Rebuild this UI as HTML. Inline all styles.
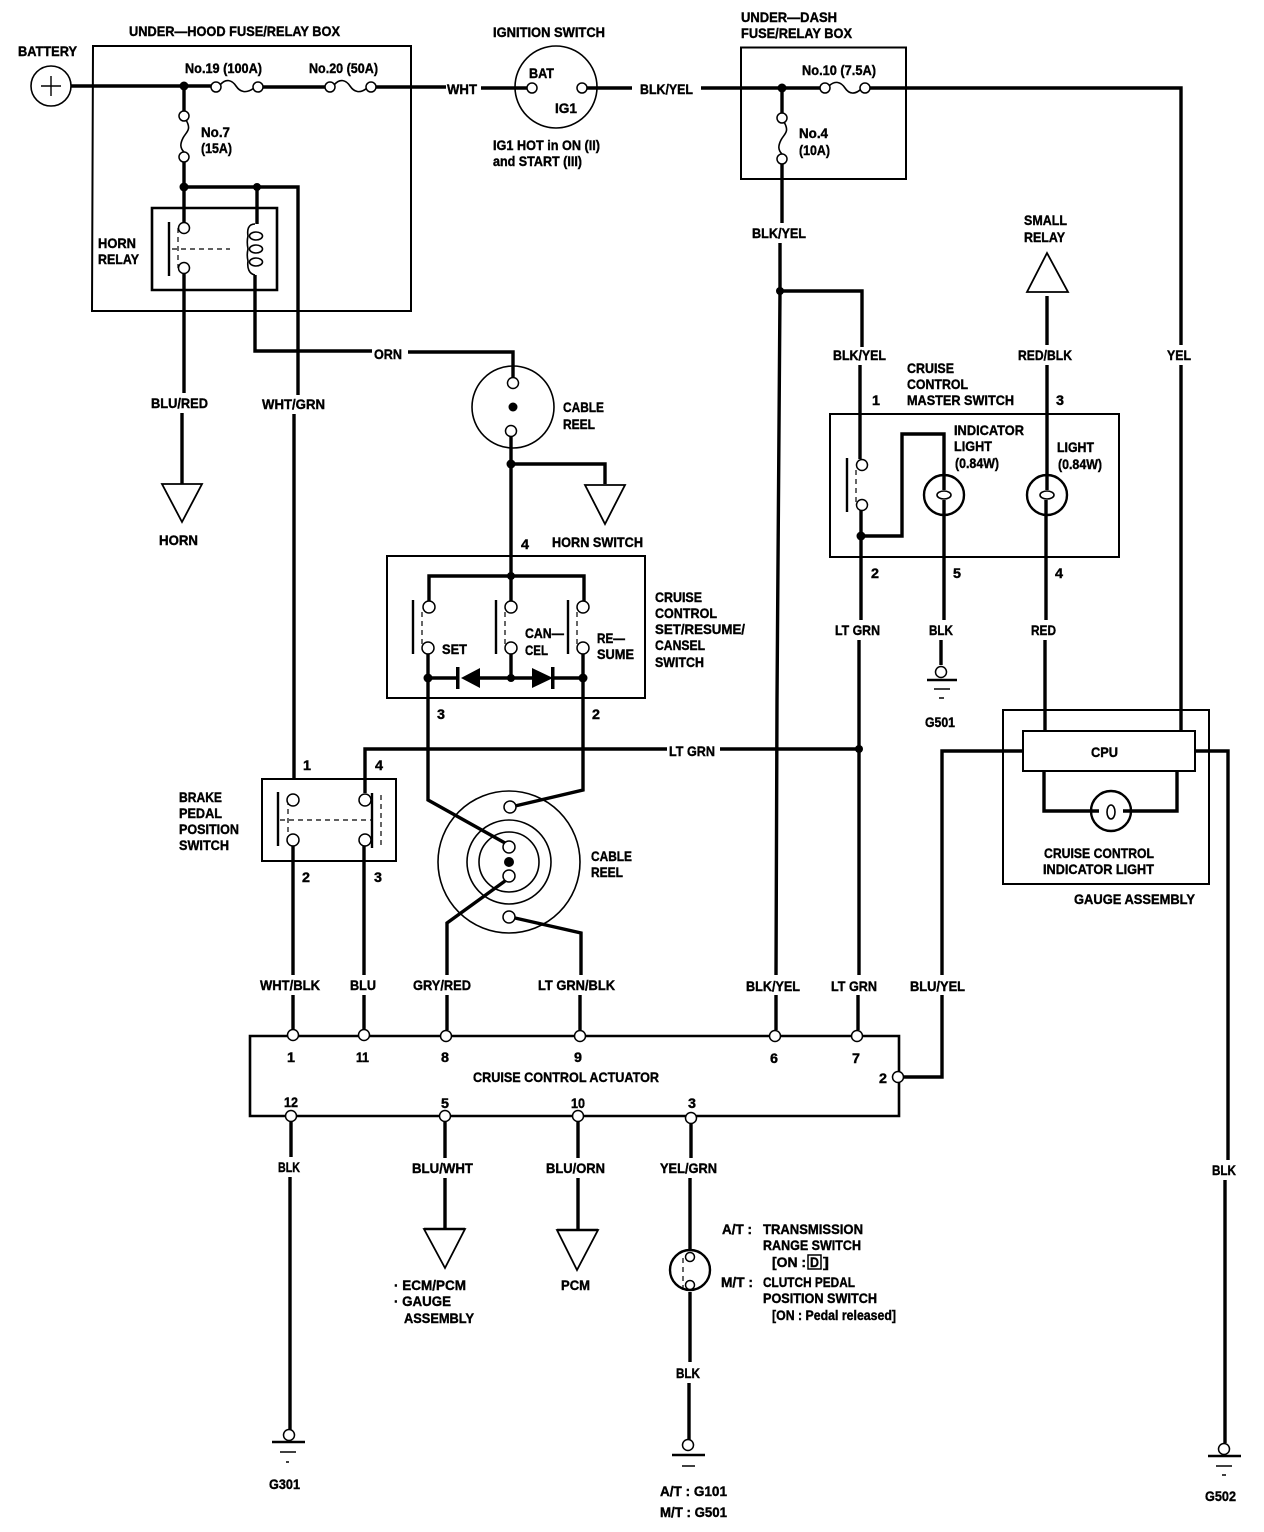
<!DOCTYPE html>
<html><head><meta charset="utf-8"><style>
html,body{margin:0;padding:0;background:#fff;width:1264px;height:1532px;overflow:hidden}
svg{display:block}
text{font-family:"Liberation Sans",sans-serif;font-weight:bold;font-size:14px;fill:#000;stroke:#000;stroke-width:.4}
.w{fill:none;stroke:#000;stroke-width:3.4;stroke-linejoin:miter}
.b{fill:none;stroke:#000;stroke-width:2}
.t{fill:none;stroke:#000;stroke-width:1.6}
.h{fill:#fff;stroke:#000;stroke-width:1.5}
.d{fill:none;stroke:#000;stroke-width:1.2;stroke-dasharray:5 4}
.k{fill:#000;stroke:none}
</style></head><body>
<svg width="1264" height="1532" viewBox="0 0 1264 1532" xmlns="http://www.w3.org/2000/svg">
<!-- boxes -->
<g class="b">
<path d="M93 46H411V311H92Z"/><path d="M741 47.5H906V179H741Z"/><path d="M152 208H277V290H152Z" style="stroke-width:2.6"/>
<path d="M387 556H645V698H387Z"/><path d="M262 779H396V861H262Z"/><path d="M830 414H1119V557H830Z"/>
<path d="M1003 710H1209V884H1003Z"/><path d="M1023 731H1195V771H1023Z"/>
</g>
<path class="w" d="M250 1036H899V1116H250Z" style="stroke-width:2.6"/>
<!-- wires -->
<g class="w">
<path d="M71 86H212M263 87H326M375 87H446M481 88H527M587 88H632M701 88H820M869 88H1181V345"/>
<path d="M184 86V111M184 162V187H298V395M257 187V224M184 187V223M184 273V393M182 413V484M255 275V351H372M408 352H513V378"/>
<path d="M294 414V780M293 845V975M293 995V1030M364 845V975M364 995V1030"/>
<path d="M511 436V575M511 464H605V484M429 602V576H584V602M511 576V602"/>
<path d="M428 653V800L505 843M511 653V678M583 653V790L515 806M428 678H458M480 678H532M553 678H583"/>
<path d="M505 881L447 923V975M447 995V1030M515 918L581 933V975M580 995V1030"/>
<path d="M365 793V749H667M720 749H859"/>
<path d="M782 88V113M782 164V223M780 243V291L777 700L776 975M776 995V1030M780 291H862V347M860 365V459M861 510V620M861 536H902V434H944V490M944 500V620M859 640V975M858 995V1030"/>
<path d="M941 640V665M1047 296V345M1047 365V490M1046 500V620M1045 640V731"/>
<path d="M1181 365V731M1177 771V811H1123M1099 811H1044V771"/>
<path d="M1023 751H942V975M942 995V1077H903M1195 751H1228V1160M1225 1180V1443"/>
<path d="M291 1121V1157M290 1177V1430M445 1121V1158M445 1178V1229M578 1121V1158M578 1178V1230M691 1123V1158M690 1178V1250M690 1292V1362M689 1383V1440"/>
</g>
<!-- thin contacts -->
<g class="t" style="stroke-width:2.4">
<path d="M169 222V276M413 600V654M496 600V654M568 600V654M278 792V846M372 793V848M847 458V512"/>
</g>
<g class="d">
<path d="M178 228V268M172 249H230M422 612V648M505 612V648M577 612V648M288 800V840M280 820H372M381 795V848M856 470V505M683 1258V1290"/>
</g>
<!-- circles -->
<g class="t">
<circle cx="51" cy="86" r="20"/><circle cx="556" cy="87" r="41"/><circle cx="513" cy="407" r="41"/>
<circle cx="509" cy="862" r="71"/><circle cx="509" cy="862" r="42"/><circle cx="509" cy="862" r="30"/>
</g>
<g class="b" style="stroke-width:2.4">
<circle cx="944" cy="495" r="20"/><circle cx="1047" cy="495" r="20"/><circle cx="1111" cy="811" r="20"/><circle cx="690" cy="1270" r="20"/>
</g>
<path class="b" d="M41 86H61M51 76V96" style="stroke-width:1.4"/>
<!-- fuses -->
<g class="t">
<path d="M220 85C226 78 232 80 236 86S246 94 254 88"/>
<path d="M334 85C340 78 346 80 350 86S360 94 367 88"/>
<path d="M829 86C835 80 841 82 845 88S855 95 861 89"/>
<path d="M186 120C192 130 186 132 183 138S180 148 184 152"/>
<path d="M784 122C790 132 784 134 781 140S778 150 782 154"/>
<path d="M255 224C248 224 247 230 248 236C247 240 247 244 248 249C247 253 247 257 248 261C247 268 249 274 255 275"/>
<ellipse cx="256" cy="236" rx="6.5" ry="4"/><ellipse cx="256" cy="249" rx="6.5" ry="4"/><ellipse cx="256" cy="262" rx="6.5" ry="4"/>
<ellipse cx="944" cy="495" rx="7" ry="4"/><ellipse cx="1047" cy="495" rx="7" ry="4"/><ellipse cx="1111" cy="812" rx="4" ry="7"/>
</g>
<!-- terminals -->
<g class="h">
<circle cx="216" cy="87" r="5"/><circle cx="258" cy="87" r="5"/><circle cx="330" cy="87" r="5"/><circle cx="371" cy="87" r="5"/>
<circle cx="532" cy="88" r="5"/><circle cx="582" cy="88" r="5"/><circle cx="825" cy="88" r="5"/><circle cx="865" cy="88" r="5"/>
<circle cx="184" cy="116" r="5"/><circle cx="184" cy="157" r="5"/><circle cx="782" cy="118" r="5"/><circle cx="782" cy="159" r="5"/>
<circle cx="184" cy="228" r="5.5"/><circle cx="184" cy="268" r="5.5"/>
<circle cx="513" cy="383" r="5.5"/><circle cx="511" cy="431" r="5.5"/>
<circle cx="429" cy="607" r="6"/><circle cx="511" cy="607" r="6"/><circle cx="583" cy="607" r="6"/>
<circle cx="428" cy="648" r="6"/><circle cx="511" cy="648" r="6"/><circle cx="583" cy="648" r="6"/>
<circle cx="293" cy="800" r="6"/><circle cx="365" cy="800" r="6"/><circle cx="293" cy="840" r="6"/><circle cx="365" cy="840" r="6"/>
<circle cx="510" cy="807" r="6"/><circle cx="509" cy="847" r="6"/><circle cx="509" cy="876" r="6"/><circle cx="509" cy="917" r="6"/>
<circle cx="862" cy="465" r="5.5"/><circle cx="862" cy="505" r="5.5"/>
<circle cx="293" cy="1035" r="5.5"/><circle cx="364" cy="1035" r="5.5"/><circle cx="446" cy="1036" r="5.5"/><circle cx="580" cy="1036" r="5.5"/><circle cx="775" cy="1036" r="5.5"/><circle cx="857" cy="1036" r="5.5"/>
<circle cx="898" cy="1077" r="5.5"/><circle cx="291" cy="1116" r="5.5"/><circle cx="445" cy="1116" r="5.5"/><circle cx="578" cy="1116" r="5.5"/><circle cx="691" cy="1118" r="5.5"/>
<circle cx="690" cy="1257" r="4.5"/><circle cx="690" cy="1285" r="4.5"/>
<circle cx="941" cy="672" r="5.5"/>
<circle cx="289" cy="1435" r="5.5"/><circle cx="688" cy="1445" r="5.5"/><circle cx="1224" cy="1449" r="5.5"/>
</g>
<!-- junctions -->
<g class="k">
<circle cx="184" cy="86" r="4.5"/><circle cx="184" cy="187" r="4.5"/><circle cx="257" cy="187" r="4"/>
<circle cx="782" cy="88" r="4.5"/><circle cx="780" cy="291" r="4"/><circle cx="511" cy="464" r="4.5"/><circle cx="511" cy="576" r="4"/>
<circle cx="428" cy="678" r="4.5"/><circle cx="511" cy="678" r="4"/><circle cx="583" cy="678" r="4.5"/>
<circle cx="861" cy="536" r="4.5"/><circle cx="859" cy="749" r="4"/><circle cx="513" cy="407" r="4.5"/><circle cx="509" cy="862" r="5"/>
<!-- diodes -->
<path d="M461 678L480 668V688Z"/><path d="M553 678L532 668V688Z"/><rect x="456" y="667" width="3.5" height="22"/><rect x="551" y="667" width="3.5" height="22"/>
</g>
<!-- triangles -->
<g class="t" style="fill:#fff;stroke-width:1.8">
<path d="M162 484H202L182 522Z"/><path d="M585 485H625L605 524Z"/><path d="M1027 292H1068L1047 253Z"/>
<path d="M424 1229H465L445 1268Z"/><path d="M557 1230H598L577 1270Z"/>
</g>
<path d="M424 1229H465M557 1230H598" class="w" style="stroke-width:2.4"/>
<!-- grounds -->
<g class="b" style="stroke-width:1.4">
<path d="M934 689H950M939 698H944M280 1452H296M286 1462H289M682 1466H695M1216 1466H1232M1222 1475H1226"/>
</g>
<path class="w" d="M927 680H957M272 1442H305M672 1455H705M1208 1456H1241" style="stroke-width:2.6"/>
<rect class="b" x="808" y="1255" width="13" height="14" style="stroke-width:1.5"/>
<!-- text -->
<text x="129" y="36" textLength="211" lengthAdjust="spacingAndGlyphs">UNDER—HOOD FUSE/RELAY BOX</text>
<text x="18" y="56" textLength="59" lengthAdjust="spacingAndGlyphs">BATTERY</text>
<text x="493" y="37" textLength="112" lengthAdjust="spacingAndGlyphs">IGNITION SWITCH</text>
<text x="741" y="22" textLength="96" lengthAdjust="spacingAndGlyphs">UNDER—DASH</text>
<text x="741" y="38" textLength="111" lengthAdjust="spacingAndGlyphs">FUSE/RELAY BOX</text>
<text x="185" y="73" textLength="77" lengthAdjust="spacingAndGlyphs">No.19 (100A)</text>
<text x="309" y="73" textLength="69" lengthAdjust="spacingAndGlyphs">No.20 (50A)</text>
<text x="201" y="137" textLength="29" lengthAdjust="spacingAndGlyphs">No.7</text>
<text x="201" y="153" textLength="31" lengthAdjust="spacingAndGlyphs">(15A)</text>
<text x="447" y="94" textLength="30" lengthAdjust="spacingAndGlyphs">WHT</text>
<text x="529" y="78" textLength="25" lengthAdjust="spacingAndGlyphs">BAT</text>
<text x="555" y="113" textLength="22" lengthAdjust="spacingAndGlyphs">IG1</text>
<text x="493" y="150" textLength="107" lengthAdjust="spacingAndGlyphs">IG1 HOT in ON (II)</text>
<text x="493" y="166" textLength="89" lengthAdjust="spacingAndGlyphs">and START (III)</text>
<text x="640" y="94" textLength="53" lengthAdjust="spacingAndGlyphs">BLK/YEL</text>
<text x="802" y="75" textLength="74" lengthAdjust="spacingAndGlyphs">No.10 (7.5A)</text>
<text x="799" y="138" textLength="29" lengthAdjust="spacingAndGlyphs">No.4</text>
<text x="799" y="155" textLength="31" lengthAdjust="spacingAndGlyphs">(10A)</text>
<text x="98" y="248" textLength="38" lengthAdjust="spacingAndGlyphs">HORN</text>
<text x="98" y="264" textLength="41" lengthAdjust="spacingAndGlyphs">RELAY</text>
<text x="374" y="359" textLength="28" lengthAdjust="spacingAndGlyphs">ORN</text>
<text x="151" y="408" textLength="57" lengthAdjust="spacingAndGlyphs">BLU/RED</text>
<text x="262" y="409" textLength="63" lengthAdjust="spacingAndGlyphs">WHT/GRN</text>
<text x="159" y="545" textLength="39" lengthAdjust="spacingAndGlyphs">HORN</text>
<text x="563" y="412" textLength="41" lengthAdjust="spacingAndGlyphs">CABLE</text>
<text x="563" y="429" textLength="32" lengthAdjust="spacingAndGlyphs">REEL</text>
<text x="521" y="549" textLength="8" lengthAdjust="spacingAndGlyphs">4</text>
<text x="552" y="547" textLength="91" lengthAdjust="spacingAndGlyphs">HORN SWITCH</text>
<text x="655" y="602" textLength="47" lengthAdjust="spacingAndGlyphs">CRUISE</text>
<text x="655" y="618" textLength="62" lengthAdjust="spacingAndGlyphs">CONTROL</text>
<text x="655" y="634" textLength="90" lengthAdjust="spacingAndGlyphs">SET/RESUME/</text>
<text x="655" y="650" textLength="50" lengthAdjust="spacingAndGlyphs">CANSEL</text>
<text x="655" y="667" textLength="49" lengthAdjust="spacingAndGlyphs">SWITCH</text>
<text x="442" y="654" textLength="25" lengthAdjust="spacingAndGlyphs">SET</text>
<text x="525" y="638" textLength="39" lengthAdjust="spacingAndGlyphs">CAN—</text>
<text x="525" y="655" textLength="23" lengthAdjust="spacingAndGlyphs">CEL</text>
<text x="597" y="643" textLength="28" lengthAdjust="spacingAndGlyphs">RE—</text>
<text x="597" y="659" textLength="37" lengthAdjust="spacingAndGlyphs">SUME</text>
<text x="437" y="719" textLength="8" lengthAdjust="spacingAndGlyphs">3</text>
<text x="592" y="719" textLength="8" lengthAdjust="spacingAndGlyphs">2</text>
<text x="669" y="756" textLength="46" lengthAdjust="spacingAndGlyphs">LT GRN</text>
<text x="179" y="802" textLength="43" lengthAdjust="spacingAndGlyphs">BRAKE</text>
<text x="179" y="818" textLength="43" lengthAdjust="spacingAndGlyphs">PEDAL</text>
<text x="179" y="834" textLength="60" lengthAdjust="spacingAndGlyphs">POSITION</text>
<text x="179" y="850" textLength="50" lengthAdjust="spacingAndGlyphs">SWITCH</text>
<text x="303" y="770" textLength="8" lengthAdjust="spacingAndGlyphs">1</text>
<text x="375" y="770" textLength="8" lengthAdjust="spacingAndGlyphs">4</text>
<text x="302" y="882" textLength="8" lengthAdjust="spacingAndGlyphs">2</text>
<text x="374" y="882" textLength="8" lengthAdjust="spacingAndGlyphs">3</text>
<text x="591" y="861" textLength="41" lengthAdjust="spacingAndGlyphs">CABLE</text>
<text x="591" y="877" textLength="32" lengthAdjust="spacingAndGlyphs">REEL</text>
<text x="752" y="238" textLength="54" lengthAdjust="spacingAndGlyphs">BLK/YEL</text>
<text x="833" y="360" textLength="53" lengthAdjust="spacingAndGlyphs">BLK/YEL</text>
<text x="907" y="373" textLength="47" lengthAdjust="spacingAndGlyphs">CRUISE</text>
<text x="907" y="389" textLength="61" lengthAdjust="spacingAndGlyphs">CONTROL</text>
<text x="907" y="405" textLength="107" lengthAdjust="spacingAndGlyphs">MASTER SWITCH</text>
<text x="1024" y="225" textLength="43" lengthAdjust="spacingAndGlyphs">SMALL</text>
<text x="1024" y="242" textLength="41" lengthAdjust="spacingAndGlyphs">RELAY</text>
<text x="1018" y="360" textLength="54" lengthAdjust="spacingAndGlyphs">RED/BLK</text>
<text x="1167" y="360" textLength="24" lengthAdjust="spacingAndGlyphs">YEL</text>
<text x="872" y="405" textLength="8" lengthAdjust="spacingAndGlyphs">1</text>
<text x="1056" y="405" textLength="8" lengthAdjust="spacingAndGlyphs">3</text>
<text x="954" y="435" textLength="70" lengthAdjust="spacingAndGlyphs">INDICATOR</text>
<text x="954" y="451" textLength="38" lengthAdjust="spacingAndGlyphs">LIGHT</text>
<text x="955" y="468" textLength="44" lengthAdjust="spacingAndGlyphs">(0.84W)</text>
<text x="1057" y="452" textLength="37" lengthAdjust="spacingAndGlyphs">LIGHT</text>
<text x="1058" y="469" textLength="44" lengthAdjust="spacingAndGlyphs">(0.84W)</text>
<text x="871" y="578" textLength="8" lengthAdjust="spacingAndGlyphs">2</text>
<text x="953" y="578" textLength="8" lengthAdjust="spacingAndGlyphs">5</text>
<text x="1055" y="578" textLength="8" lengthAdjust="spacingAndGlyphs">4</text>
<text x="835" y="635" textLength="45" lengthAdjust="spacingAndGlyphs">LT GRN</text>
<text x="929" y="635" textLength="24" lengthAdjust="spacingAndGlyphs">BLK</text>
<text x="1031" y="635" textLength="25" lengthAdjust="spacingAndGlyphs">RED</text>
<text x="925" y="727" textLength="30" lengthAdjust="spacingAndGlyphs">G501</text>
<text x="1091" y="757" textLength="27" lengthAdjust="spacingAndGlyphs">CPU</text>
<text x="1044" y="858" textLength="110" lengthAdjust="spacingAndGlyphs">CRUISE CONTROL</text>
<text x="1043" y="874" textLength="111" lengthAdjust="spacingAndGlyphs">INDICATOR LIGHT</text>
<text x="1074" y="904" textLength="121" lengthAdjust="spacingAndGlyphs">GAUGE ASSEMBLY</text>
<text x="260" y="990" textLength="60" lengthAdjust="spacingAndGlyphs">WHT/BLK</text>
<text x="350" y="990" textLength="26" lengthAdjust="spacingAndGlyphs">BLU</text>
<text x="413" y="990" textLength="58" lengthAdjust="spacingAndGlyphs">GRY/RED</text>
<text x="538" y="990" textLength="77" lengthAdjust="spacingAndGlyphs">LT GRN/BLK</text>
<text x="746" y="991" textLength="54" lengthAdjust="spacingAndGlyphs">BLK/YEL</text>
<text x="831" y="991" textLength="46" lengthAdjust="spacingAndGlyphs">LT GRN</text>
<text x="910" y="991" textLength="55" lengthAdjust="spacingAndGlyphs">BLU/YEL</text>
<text x="287" y="1062" textLength="8" lengthAdjust="spacingAndGlyphs">1</text>
<text x="356" y="1062" textLength="13" lengthAdjust="spacingAndGlyphs">11</text>
<text x="441" y="1062" textLength="8" lengthAdjust="spacingAndGlyphs">8</text>
<text x="574" y="1062" textLength="8" lengthAdjust="spacingAndGlyphs">9</text>
<text x="770" y="1063" textLength="8" lengthAdjust="spacingAndGlyphs">6</text>
<text x="852" y="1063" textLength="8" lengthAdjust="spacingAndGlyphs">7</text>
<text x="879" y="1083" textLength="8" lengthAdjust="spacingAndGlyphs">2</text>
<text x="473" y="1082" textLength="186" lengthAdjust="spacingAndGlyphs">CRUISE CONTROL ACTUATOR</text>
<text x="284" y="1107" textLength="14" lengthAdjust="spacingAndGlyphs">12</text>
<text x="441" y="1108" textLength="8" lengthAdjust="spacingAndGlyphs">5</text>
<text x="571" y="1108" textLength="14" lengthAdjust="spacingAndGlyphs">10</text>
<text x="688" y="1108" textLength="8" lengthAdjust="spacingAndGlyphs">3</text>
<text x="278" y="1172" textLength="22" lengthAdjust="spacingAndGlyphs">BLK</text>
<text x="412" y="1173" textLength="61" lengthAdjust="spacingAndGlyphs">BLU/WHT</text>
<text x="546" y="1173" textLength="59" lengthAdjust="spacingAndGlyphs">BLU/ORN</text>
<text x="660" y="1173" textLength="57" lengthAdjust="spacingAndGlyphs">YEL/GRN</text>
<text x="394" y="1290" textLength="72" lengthAdjust="spacingAndGlyphs">· ECM/PCM</text>
<text x="394" y="1306" textLength="57" lengthAdjust="spacingAndGlyphs">· GAUGE</text>
<text x="404" y="1323" textLength="70" lengthAdjust="spacingAndGlyphs">ASSEMBLY</text>
<text x="561" y="1290" textLength="29" lengthAdjust="spacingAndGlyphs">PCM</text>
<text x="722" y="1234" textLength="30" lengthAdjust="spacingAndGlyphs">A/T :</text>
<text x="763" y="1234" textLength="100" lengthAdjust="spacingAndGlyphs">TRANSMISSION</text>
<text x="763" y="1250" textLength="98" lengthAdjust="spacingAndGlyphs">RANGE SWITCH</text>
<text x="772" y="1267" textLength="34" lengthAdjust="spacingAndGlyphs">[ON :</text>
<text x="810" y="1267" textLength="9" lengthAdjust="spacingAndGlyphs">D</text>
<text x="823" y="1267" textLength="6" lengthAdjust="spacingAndGlyphs">]</text>
<text x="721" y="1287" textLength="32" lengthAdjust="spacingAndGlyphs">M/T :</text>
<text x="763" y="1287" textLength="92" lengthAdjust="spacingAndGlyphs">CLUTCH PEDAL</text>
<text x="763" y="1303" textLength="114" lengthAdjust="spacingAndGlyphs">POSITION SWITCH</text>
<text x="772" y="1320" textLength="124" lengthAdjust="spacingAndGlyphs">[ON : Pedal released]</text>
<text x="676" y="1378" textLength="24" lengthAdjust="spacingAndGlyphs">BLK</text>
<text x="269" y="1489" textLength="31" lengthAdjust="spacingAndGlyphs">G301</text>
<text x="660" y="1496" textLength="67" lengthAdjust="spacingAndGlyphs">A/T : G101</text>
<text x="660" y="1517" textLength="67" lengthAdjust="spacingAndGlyphs">M/T : G501</text>
<text x="1212" y="1175" textLength="24" lengthAdjust="spacingAndGlyphs">BLK</text>
<text x="1205" y="1501" textLength="31" lengthAdjust="spacingAndGlyphs">G502</text>
</svg>
</body></html>
